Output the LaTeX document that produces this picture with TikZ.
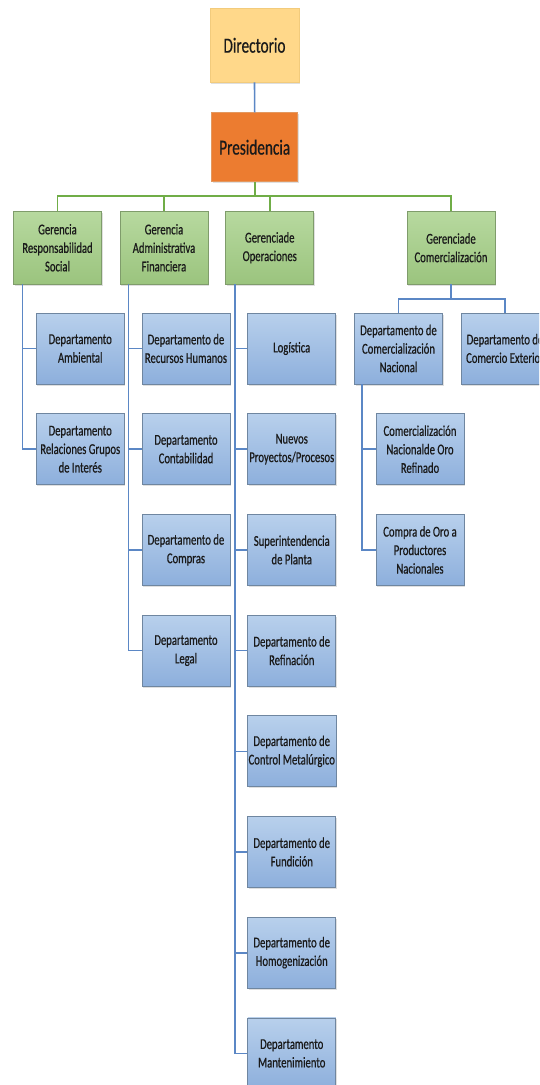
\documentclass[tikz,border=0pt]{standalone}
\usepackage{fontspec}
\setmainfont{Carlito}[FakeStretch=0.71,FakeBold=0.6]
\usetikzlibrary{shadows,positioning}
\definecolor{txt}{HTML}{1A1A1A}
\definecolor{bluetop}{HTML}{B8D0EC}
\definecolor{bluebot}{HTML}{8DAFDC}
\definecolor{blueedge}{HTML}{6F86A0}
\definecolor{greentop}{HTML}{B7D99F}
\definecolor{greenbot}{HTML}{9BC47E}
\definecolor{greenedge}{HTML}{7F9C6B}
\definecolor{dirfill}{HTML}{FFD88A}
\definecolor{diredge}{HTML}{F2CB7C}
\definecolor{presfill}{HTML}{EC7C30}
\definecolor{presedge}{HTML}{E4985F}
\definecolor{blueline}{HTML}{5B87C5}
\definecolor{greenline}{HTML}{70AD47}
\tikzset{
  basebox/.style={rectangle, align=center, text=txt, inner sep=1pt, line width=0.8pt,
    font=\fontsize{15}{18.5}\selectfont,
    drop shadow={shadow xshift=1.2pt, shadow yshift=-1.5pt, opacity=0.25}},
  deptbox/.style={basebox, draw=blueedge, top color=bluetop, bottom color=bluebot,
    minimum width=88pt, minimum height=71pt},
  gerbox/.style={basebox, draw=greenedge, top color=greentop, bottom color=greenbot,
    minimum width=88pt, minimum height=72.5pt},
  topbox/.style={basebox, font=\fontsize{21.5}{25}\selectfont},
  bline/.style={draw=blueline, line width=1.6pt},
  gline/.style={draw=greenline, line width=1.8pt},
}
\begin{document}
\begin{tikzpicture}[x=1pt,y=-1pt]
\useasboundingbox (0,0) rectangle (539,1085);
\fill[white] (0,0) rectangle (539,1085);
\clip (0,0) rectangle (539,1085);

% top
\node[topbox, draw=diredge, fill=dirfill, minimum width=89pt, minimum height=73.4pt] (dir) at (254.5,45.3) {Directorio};
\node[topbox, draw=presedge, fill=presfill, minimum width=86pt, minimum height=69pt] (pres) at (254.7,147.2) {Presidencia};

% gerencias
\node[gerbox] (g1) at (57.5,247.75) {Gerencia\\Responsabilidad\\Social};
\node[gerbox] (g2) at (164,247.75) {Gerencia\\Administrativa\\Financiera};
\node[gerbox] (g3) at (269.75,247.75) {Gerenciade\\Operaciones};
\node[gerbox] (g4) at (451,247.75) {Gerenciade\\Comercialización};

% column 1
\node[deptbox] (d11) at (80.25,348.5) {Departamento\\Ambiental};
\node[deptbox] (d12) at (80.25,449.2) {Departamento\\Relaciones Grupos\\de Interés};

% column 2
\node[deptbox] (d21) at (186,348.5) {Departamento de\\Recursos Humanos};
\node[deptbox] (d22) at (186,449.2) {Departamento\\Contabilidad};
\node[deptbox] (d23) at (186,549.9) {Departamento de\\Compras};
\node[deptbox] (d24) at (186,650.6) {Departamento\\Legal};

% column 3
\node[deptbox] (d31) at (291.75,348.5) {Logística};
\node[deptbox] (d32) at (291.75,449.2) {Nuevos\\Proyectos/Procesos};
\node[deptbox] (d33) at (291.75,549.9) {Superintendencia\\de Planta};
\node[deptbox] (d34) at (291.75,650.6) {Departamento de\\Refinación};
\node[deptbox] (d35) at (291.75,751.3) {Departamento de\\Control Metalúrgico};
\node[deptbox] (d36) at (291.75,852) {Departamento de\\Fundición};
\node[deptbox] (d37) at (291.75,952.7) {Departamento de\\Homogenización};
\node[deptbox] (d38) at (291.75,1053.4) {Departamento\\Mantenimiento};

% comercializacion
\node[deptbox] (cn) at (398.5,348.5) {Departamento de\\Comercialización\\Nacional};
\node[deptbox] (ce) at (505,348.5) {Departamento de\\Comercio Exterior};
\node[deptbox] (cn1) at (420,449.2) {Comercialización\\Nacionalde Oro\\Refinado};
\node[deptbox] (cn2) at (420,549.9) {Compra de Oro a\\Productores\\Nacionales};

% connectors
\coordinate (busY) at (0,196);
\coordinate (busC) at (0,299);
\draw[bline] (dir.south) -- (pres.north);
\draw[gline] (pres.south) -- (pres.south |- busY);
\draw[gline] (g1.north) -- (g1.north |- busY) -- (g4.north |- busY) -- (g4.north);
\draw[gline] (g2.north) -- (g2.north |- busY);
\draw[gline] (g3.north) -- (g3.north |- busY);

\coordinate (v1) at ([xshift=9.5pt]g1.south west);
\coordinate (v2) at ([xshift=9pt]g2.south west);
\coordinate (v3) at ([xshift=9.5pt]g3.south west);
\coordinate (v4) at ([xshift=8pt]cn.south west);

\draw[bline] (v1) |- (d11.west);
\draw[bline] (v1) |- (d12.west);
\foreach \n in {d21,d22,d23,d24} \draw[bline] (v2) |- (\n.west);
\foreach \n in {d31,d32,d33,d34,d35,d36,d37,d38} \draw[bline] (v3) |- (\n.west);
\draw[bline] (v4) |- (cn1.west);
\draw[bline] (v4) |- (cn2.west);

\draw[bline] (g4.south) -- (g4.south |- busC);
\draw[bline] (cn.north) -- (cn.north |- busC) -- (ce.north |- busC) -- (ce.north);
\end{tikzpicture}
\end{document}
